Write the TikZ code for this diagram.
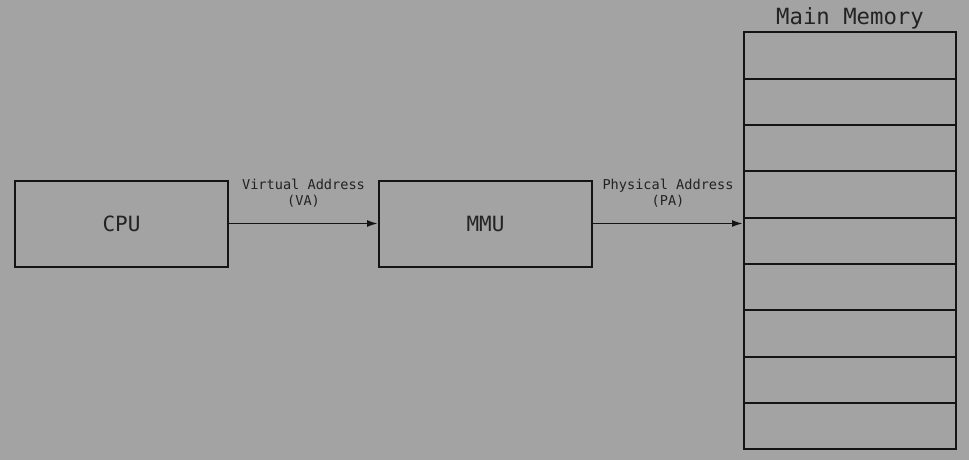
\documentclass[tikz,border=0pt]{standalone}
\usepackage{fontspec}
\setmonofont{DejaVu Sans Mono}
\usetikzlibrary{arrows.meta,positioning}
\definecolor{bg}{RGB}{163,163,163}
\definecolor{ink}{RGB}{20,20,20}
\definecolor{txt}{RGB}{35,35,35}
\tikzset{
  unitbox/.style={draw=ink,line width=2pt,minimum width=213pt,minimum height=86pt,inner sep=0pt,
    font=\ttfamily\fontsize{21}{24}\selectfont,text=txt},
  memrow/.style={draw=ink,line width=2pt,minimum width=212pt,minimum height=46.33pt,inner sep=0pt},
  lbl/.style={font=\ttfamily\fontsize{13.6}{16}\selectfont,text=txt,align=center,inner sep=0pt},
  conn/.style={draw=ink,line width=1.8pt,-{Latex[length=11pt,width=7pt]}},
}
\begin{document}
\begin{tikzpicture}[x=1pt,y=-1pt]
\fill[bg] (0,0) rectangle (969,460);
\useasboundingbox (0,0) rectangle (969,460);
\node[unitbox] (cpu) at (121.5,223.5) {CPU};
\node[unitbox] (mmu) at (485.5,223.5) {MMU};
\foreach \i in {1,...,9}{
  \node[memrow] (m\i) at (850,{32.5+46.33*(\i-0.5)}) {};
}
\node[font=\ttfamily\fontsize{22.3}{24}\selectfont,text=txt,anchor=base] (title) at (850,24.5) {Main Memory};
\coordinate (pa) at (mmu.east -| m5.west);
\draw[conn] (cpu.east) -- (mmu.west);
\draw[conn] (mmu.east) -- (pa);
\node[lbl] (va) at (303.5,193.5) {Virtual Address\\(VA)};
\node[lbl] (pal) at (668,193.5) {Physical Address\\(PA)};
\end{tikzpicture}
\end{document}
